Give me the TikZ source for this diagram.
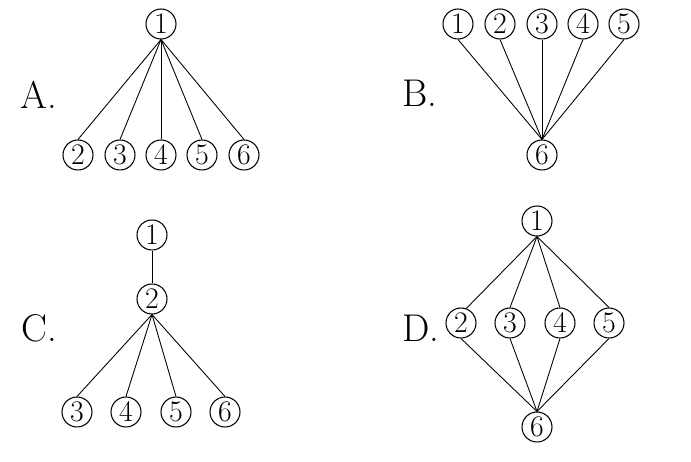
\documentclass[tikz,border=0pt]{standalone}
\usepackage{tikz}

\begin{document}
\begin{tikzpicture}[
    x=0.02cm, y=-0.02cm,
    vert/.style={draw, circle, line width=0.6pt, minimum size=0.6cm, inner sep=0pt,
                 font=\fontsize{17}{20}\selectfont},
    choice/.style={font=\fontsize{22}{26}\selectfont},
    edge/.style={line width=0.5pt}
]
\useasboundingbox (0,0) rectangle (691,462);

% A
\node[choice] (labA) at (39,95) {A.};
\node[vert] (a1) at (161,24)  {1};
\node[vert] (a2) at (78,155)  {2};
\node[vert] (a3) at (120,155) {3};
\node[vert] (a4) at (161,155) {4};
\node[vert] (a5) at (202,155) {5};
\node[vert] (a6) at (244,155) {6};
\draw[edge] (a1.south) -- (a2.north);
\draw[edge] (a1.south) -- (a3.north);
\draw[edge] (a1.south) -- (a4.north);
\draw[edge] (a1.south) -- (a5.north);
\draw[edge] (a1.south) -- (a6.north);

% B
\node[choice] (labB) at (420,93) {B.};
\node[vert] (b1) at (458,24) {1};
\node[vert] (b2) at (500,24) {2};
\node[vert] (b3) at (542,24) {3};
\node[vert] (b4) at (583,24) {4};
\node[vert] (b5) at (624,24) {5};
\node[vert] (b6) at (542,155) {6};
\draw[edge] (b6.north) -- (b1.south);
\draw[edge] (b6.north) -- (b2.south);
\draw[edge] (b6.north) -- (b3.south);
\draw[edge] (b6.north) -- (b4.south);
\draw[edge] (b6.north) -- (b5.south);

% C
\node[choice] (labC) at (39,328) {C.};
\node[vert] (c1) at (152,235) {1};
\node[vert] (c2) at (152,299) {2};
\node[vert] (c3) at (77,412)  {3};
\node[vert] (c4) at (126,412) {4};
\node[vert] (c5) at (176,412) {5};
\node[vert] (c6) at (225,412) {6};
\draw[edge] (c1) -- (c2);
\draw[edge] (c2.south) -- (c3.north);
\draw[edge] (c2.south) -- (c4.north);
\draw[edge] (c2.south) -- (c5.north);
\draw[edge] (c2.south) -- (c6.north);

% D
\node[choice] (labD) at (421,328) {D.};
\node[vert] (d1) at (537,221) {1};
\node[vert] (d2) at (461,323) {2};
\node[vert] (d3) at (510,323) {3};
\node[vert] (d4) at (560,323) {4};
\node[vert] (d5) at (609,323) {5};
\node[vert] (d6) at (537,427) {6};
\draw[edge] (d1.south) -- (d2.70);
\draw[edge] (d1.south) -- (d3.north);
\draw[edge] (d1.south) -- (d4.north);
\draw[edge] (d1.south) -- (d5.north);
\draw[edge] (d2.south) -- (d6.north);
\draw[edge] (d3.south) -- (d6.north);
\draw[edge] (d4.south) -- (d6.north);
\draw[edge] (d5.south) -- (d6.north);
\end{tikzpicture}
\end{document}
